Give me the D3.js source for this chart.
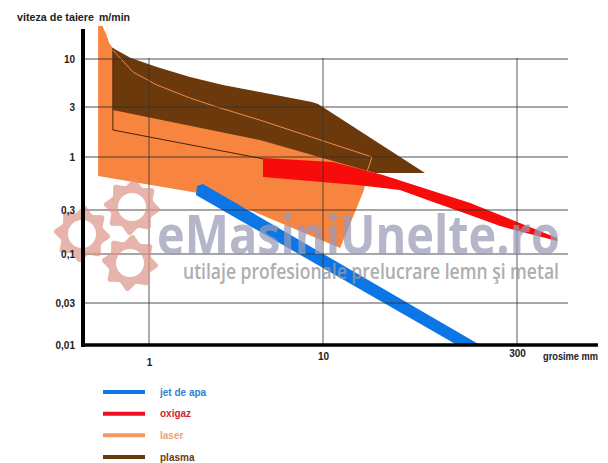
<!DOCTYPE html>
<html>
<head>
<meta charset="utf-8">
<script src="https://cdn.jsdelivr.net/npm/d3@7"></script>
<style>
  body { margin: 0; background: #fff; }
  text { font-family: "Liberation Sans", Arial, sans-serif; font-weight: bold; }
</style>
</head>
<body>
<svg width="608" height="463"></svg>
<script>
// ticks (thickness in mm, speed in m/min)
const xTicks = [1, 10, 300];
const xTickLabels = ['1', '10', '300'];
const yTicks = [0.01, 0.03, 0.1, 0.3, 1, 3, 10];
const yTickLabels = ['0,01', '0,03', '0,1', '0,3', '1', '3', '10'];

// outlines of each cutting process [grosime, viteza]
const laser = [[0.51, 22.9], [0.54, 22.9], [0.57, 18.3], [0.59, 14.9], [0.62, 13.2], [0.62, 9.8],
    [9.36, 2.81], [23.6, 0.93], [20.2, 0.45], [13.5, 0.116], [3.8, 0.3], [1.96, 0.44], [0.51, 0.65]];
const plasma = [[0.62, 13.2], [0.78, 10.3], [1.11, 8.18], [1.72, 6.37], [2.66, 5.21], [4.34, 4.37],
    [8.64, 3.4], [9.36, 3.23], [59.8, 0.695], [24.9, 0.695], [4.34, 1.45], [0.62, 2.81]];
const plasmaEdge = [[0.62, 13.2], [0.62, 1.81], [4.52, 0.96]];
const laserEdge = [[0.62, 12.5], [0.81, 7.21], [1.11, 5.21], [1.72, 3.76], [2.46, 3], [4.34, 2.25],
    [23.6, 1.0], [21.6, 0.711]];
const oxigaz = [[4.52, 0.977], [11.9, 0.893], [28.6, 0.664], [132, 0.352], [606, 0.149],
    [606, 0.138], [223, 0.201], [125, 0.271], [68.9, 0.36], [38.5, 0.472], [18.2, 0.53], [4.52, 0.635]];
const jetApa = [[1.89, 0.517], [2.04, 0.542], [157, 0.01], [105, 0.01], [1.86, 0.422]];

const legendNames = ['jet de apa', 'oxigaz', 'laser', 'plasma'];
const legendColors = ['#0f78e4', '#ee1020', '#f59a62', '#6b3a0c'];
const legendTextColors = ['#2f80d2', '#d01e30', '#f0a272', '#6b3a12'];

const svg = d3.select('svg');

// scale is not a true log: every tick step gets its own piece
const xScale = d3.scaleLog().domain(xTicks).range([149, 323, 517]);
const yScale = d3.scaleLog().domain(yTicks).range([345, 303, 254, 210, 157, 107, 59]);

const line = d3.line().x(d => xScale(d[0])).y(d => yScale(d[1]));
const shape = data => line(data) + 'Z';

const g = svg.append('g');

g.append('path').attr('d', shape(laser)).attr('fill', '#f7843f');
g.append('path').attr('d', shape(plasma)).attr('fill', '#6b390c');
g.append('path').attr('d', line(plasmaEdge)).attr('fill', 'none')
    .attr('stroke', '#4a2206').attr('stroke-width', 1);
g.append('path').attr('d', line(laserEdge)).attr('fill', 'none')
    .attr('stroke', '#f08a40').attr('stroke-width', 1);
g.append('path').attr('d', shape(oxigaz)).attr('fill', '#f80b0b');
g.append('path').attr('d', shape(jetApa)).attr('fill', '#0c76e6');

// watermark
const gear = (cx, cy, rOut, rIn, rHole, teeth) => {
    let p = '';
    const n = teeth * 4;
    for (let i = 0; i < n; i++) {
        const a = i / n * 2 * Math.PI;
        const r = (i % 4 === 0 || i % 4 === 1) ? rOut : rIn;
        const a2 = a + (i % 4 === 0 || i % 4 === 2 ? 0.05 : -0.05);
        p += (i === 0 ? 'M' : 'L') + (cx + r * Math.cos(a2)).toFixed(1) + ',' + (cy + r * Math.sin(a2)).toFixed(1);
    }
    p += 'Z';
    p += `M${cx + rHole},${cy}A${rHole},${rHole} 0 1,0 ${cx - rHole},${cy}A${rHole},${rHole} 0 1,0 ${cx + rHole},${cy}Z`;
    return p;
};
const wm = svg.append('g');
[[82, 234], [132, 207], [130, 263]].forEach(c => {
    wm.append('path').attr('d', gear(c[0], c[1], 28, 22, 14, 8))
        .attr('fill', '#dc9488').attr('fill-rule', 'evenodd').attr('opacity', 0.7);
});
wm.append('text')
    .attr('x', 157).attr('y', 254)
    .attr('textLength', 403).attr('lengthAdjust', 'spacingAndGlyphs')
    .style('font-family', '"Open Sans", sans-serif').style('font-weight', 700)
    .style('font-size', '54px').style('fill', '#9a9ab8').style('opacity', 0.72)
    .text('eMasiniUnelte.ro');
wm.append('text')
    .attr('x', 183).attr('y', 279)
    .attr('textLength', 376).attr('lengthAdjust', 'spacingAndGlyphs')
    .style('font-family', '"Open Sans", sans-serif').style('font-weight', 600)
    .style('font-size', '22px').style('fill', '#9a9a9a').style('opacity', 0.8)
    .text('utilaje profesionale prelucrare lemn şi metal');

// grid
g.append('g').selectAll('line').data(yTicks.slice(1)).enter().append('line')
    .attr('x1', 83).attr('x2', 568)
    .attr('y1', d => yScale(d)).attr('y2', d => yScale(d))
    .attr('stroke', '#333').attr('stroke-opacity', 0.85).attr('stroke-width', 1.1);
g.append('g').selectAll('line').data(xTicks).enter().append('line')
    .attr('x1', d => xScale(d)).attr('x2', d => xScale(d))
    .attr('y1', yScale(10) - 1).attr('y2', 345)
    .attr('stroke', '#333').attr('stroke-opacity', 0.8).attr('stroke-width', 1);

// axes
const yAxis = d3.axisLeft(yScale).tickValues(yTicks)
    .tickFormat((d, i) => yTickLabels[i]).tickSize(0).tickPadding(8);
const yAxisG = svg.append('g').attr('transform', 'translate(83,0)').call(yAxis);
yAxisG.select('.domain').remove();
yAxisG.selectAll('text').style('font-size', '10px').style('fill', '#222')
    .style('font-family', '"Liberation Sans", Arial, sans-serif');

const xAxis = d3.axisBottom(xScale).tickValues(xTicks)
    .tickFormat((d, i) => xTickLabels[i]).tickSize(0).tickPadding(8);
const xAxisG = svg.append('g').attr('transform', 'translate(0,345)').call(xAxis);
xAxisG.select('.domain').remove();
xAxisG.selectAll('text').style('font-size', '10px').style('fill', '#222')
    .style('font-family', '"Liberation Sans", Arial, sans-serif')
    .attr('y', (d, i) => [14, 8, 5][i]);

svg.append('line').attr('x1', 83).attr('x2', 83).attr('y1', 29).attr('y2', 347)
    .attr('stroke', '#000').attr('stroke-width', 4);
svg.append('line').attr('x1', 81).attr('x2', 598).attr('y1', 345).attr('y2', 345)
    .attr('stroke', '#000').attr('stroke-width', 3.5);

// axis titles
svg.append('text').attr('x', 17).attr('y', 21).style('font-size', '10px').style('fill', '#222')
    .attr('textLength', 77).attr('lengthAdjust', 'spacingAndGlyphs')
    .text('viteza de taiere');
svg.append('text').attr('x', 99).attr('y', 21).style('font-size', '10px').style('fill', '#222')
    .attr('textLength', 31).attr('lengthAdjust', 'spacingAndGlyphs')
    .text('m/min');
svg.append('text').attr('x', 543).attr('y', 360).style('font-size', '10px').style('fill', '#222')
    .attr('textLength', 55).attr('lengthAdjust', 'spacingAndGlyphs')
    .text('grosime mm');

// legend
const legendY = d3.scalePoint().domain(legendNames).range([392, 457]);
const legend = svg.append('g').selectAll('g').data(legendNames).enter().append('g')
    .attr('transform', d => `translate(0,${legendY(d)})`);
legend.append('line').attr('x1', 103).attr('x2', 145)
    .attr('stroke', (d, i) => legendColors[i]).attr('stroke-width', 4);
legend.append('text').attr('x', 160).attr('dy', '0.35em')
    .style('font-size', '10px').style('fill', (d, i) => legendTextColors[i])
    .text(d => d);
</script>
</body>
</html>
